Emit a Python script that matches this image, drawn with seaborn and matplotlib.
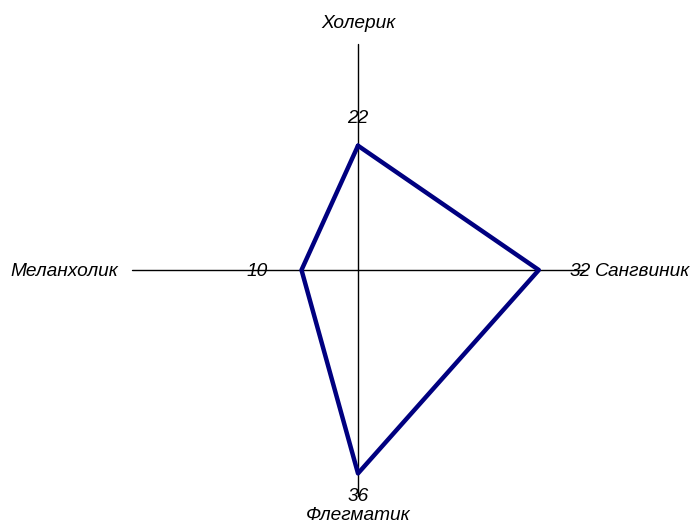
import numpy as np
import pandas as pd
import matplotlib
matplotlib.use("Agg")
import matplotlib.pyplot as plt
import seaborn as sns

categories = ["Холерик", "Сангвиник", "Флегматик", "Меланхолик"]
values = [22, 32, 36, 10]
axis_max = 40

sns.set_theme(style="white")
plt.rcParams['font.family'] = ['Liberation Sans', 'DejaVu Sans']
plt.rcParams['text.color'] = 'black'

# directions: top, right, bottom, left
dirs = [(0, 1), (1, 0), (0, -1), (-1, 0)]
xs = [v * d[0] for v, d in zip(values, dirs)]
ys = [v * d[1] for v, d in zip(values, dirs)]
df = pd.DataFrame({"x": xs + [xs[0]], "y": ys + [ys[0]], "order": range(len(xs) + 1)})

fig = plt.figure(figsize=(6.93, 5.25), dpi=100)
ax = fig.add_axes([0, 0, 1, 1])
scale = 226 / axis_max
ax.set_xlim(-358 / scale, (693 - 358) / scale)
ax.set_ylim(-255 / scale, 270 / scale)
ax.axis("off")

# axes cross
ax.plot([-axis_max, axis_max], [0, 0], color="black", lw=1.0, zorder=1)
ax.plot([0, 0], [-axis_max, axis_max], color="black", lw=1.0, zorder=1)

sns.lineplot(data=df, x="x", y="y", sort=False, estimator=None, color="#000080",
             lw=3.2, ax=ax, zorder=3)

fs = 13.8
dy = -2
# value labels
offsets = [(0, 29), (41, 0), (0, -21), (-44, 0)]
for v, x, y, off in zip(values, xs, ys, offsets):
    ax.annotate(str(v), (x, y), xytext=(off[0], off[1] + dy), textcoords="offset pixels",
                ha="center", va="center", fontsize=fs, style="italic", color="black", zorder=4)

# category labels
cat_pos = [(0, 248, "center"), (237, 0, "left"), (0, -244, "center"), (-240, 0, "right")]
for name, (px, py, ha) in zip(categories, cat_pos):
    ax.annotate(name, (0, 0), xytext=(px, py + dy), textcoords="offset pixels",
                ha=ha, va="center", fontsize=fs, style="italic", color="black")

fig.savefig("out.png", dpi=100)
